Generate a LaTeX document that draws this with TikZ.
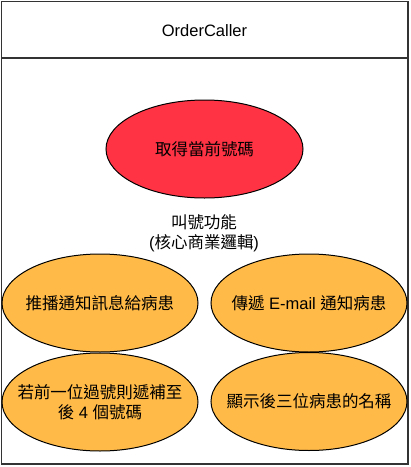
\documentclass[tikz,border=0pt]{standalone}
\usepackage{fontspec}
\setmainfont{Liberation Sans}
\newfontfamily\cjk{Noto Sans CJK TC}
\usetikzlibrary{shapes.geometric}
\definecolor{redfill}{HTML}{FF3344}
\definecolor{orangefill}{HTML}{FFBA47}
\definecolor{frame}{HTML}{333333}
\tikzset{
  txt/.style={font=\fontsize{16.5}{20}\selectfont, align=center, inner sep=0pt},
  oval/.style={ellipse, draw=black, line width=1pt, inner sep=0pt,
    minimum width=196pt, minimum height=98pt},
  redoval/.style={oval, fill=redfill},
  orangeoval/.style={oval, fill=orangefill},
}
\begin{document}
\begin{tikzpicture}[x=1pt,y=-1pt]
\useasboundingbox (0,0) rectangle (411,467);
% container
\draw[frame, line width=1.3pt] (1.5,1.5) rectangle (408,464);
\draw[frame, line width=1.3pt] (1.5,58) -- (408,58);
\node[txt] (title) at (204.5,31) {OrderCaller};
% ellipses
\node[redoval, minimum width=197pt] (current) at (204.5,149) {};
\node[txt] (currenttxt) at (current) {\cjk 取得當前號碼};
\node[txt] (label) at (204,233) {{\cjk 叫號功能}\\({\cjk 核心商業邏輯})};
\node[orangeoval] (push) at (100,303) {};
\node[txt] (pushtxt) at (push) {\cjk 推播通知訊息給病患};
\node[orangeoval] (email) at (309,303) {};
\node[txt] (emailtxt) at (email) {{\cjk 傳遞} E-mail {\cjk 通知病患}};
\node[orangeoval] (skip) at (100,402) {};
\node[txt] (skiptxt) at (skip) {{\cjk 若前一位過號則遞補至}\\{\cjk 後} 4 {\cjk 個號碼}};
\node[orangeoval] (show) at (309,401.5) {};
\node[txt] (showtxt) at (show) {\cjk 顯示後三位病患的名稱};
\end{tikzpicture}
\end{document}
